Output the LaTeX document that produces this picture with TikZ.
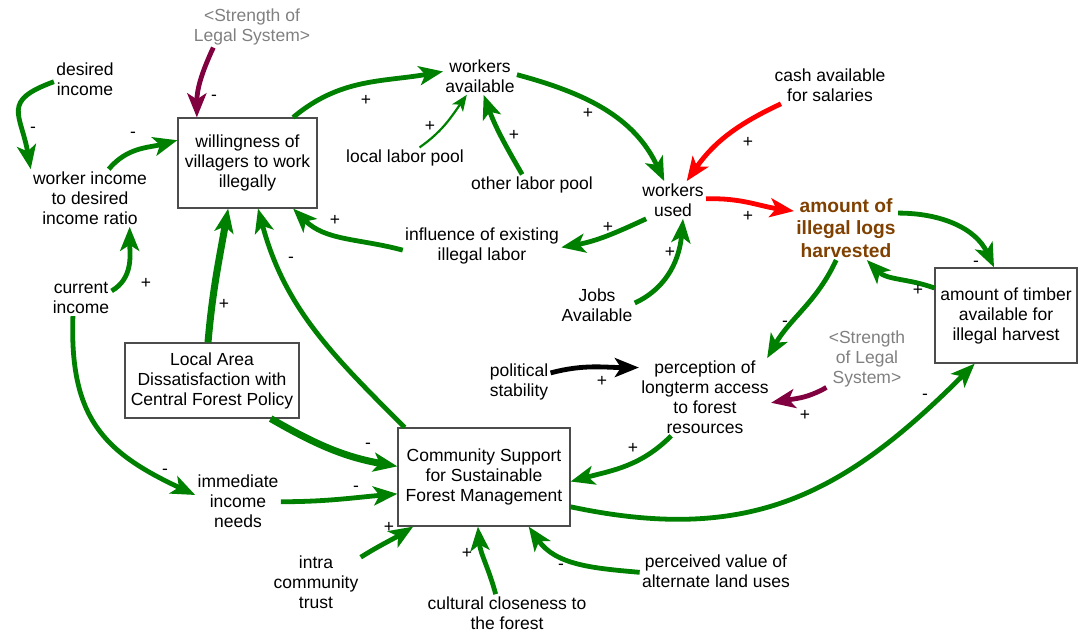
\documentclass[tikz,border=0pt]{standalone}
\usepackage{fontspec}
\setmainfont{Liberation Sans}
\usetikzlibrary{arrows.meta}

\definecolor{lnkgreen}{RGB}{0,128,0}
\definecolor{legalred}{RGB}{128,0,64}
\definecolor{harvbrown}{RGB}{128,64,0}
\definecolor{shadowgray}{RGB}{128,128,128}

\tikzset{
  var/.style={align=center, inner sep=1pt, font=\fontsize{8.75}{10}\selectfont},
  stock/.style={var, draw=black!70, line width=0.6pt, inner sep=0pt},
  ghost/.style={var, text=shadowgray},
  link/.style={lnkgreen, line width=2.4pt, -{Stealth[length=12pt,width=9.5pt,inset=3pt]}},
  sgn/.style={font=\fontsize{8.75}{10}\selectfont, inner sep=0pt},
}

\begin{document}
\begin{tikzpicture}[x=0.5pt,y=0.5pt]
\useasboundingbox (0,0) rectangle (1080,631);

% variables
\node[ghost] (legal) at (252,604) {<Strength of\\Legal System>};
\node[var] (desired) at (85,552) {desired\\income};
\node[var] (ratio) at (90,433) {worker income\\to desired\\income ratio};
\node[stock, minimum width=69.5pt, minimum height=45pt] (willing) at (247.5,468) {willingness of\\villagers to work\\illegally};
\node[var] (avail) at (480,555) {workers\\available};
\node[var] (localpool) at (405,473) {local labor pool};
\node[var] (otherpool) at (532,446) {other labor pool};
\node[var] (used) at (673,431) {workers\\used};
\node[var] (cash) at (830,546) {cash available\\for salaries};
\node[var, font=\bfseries\fontsize{9.6}{11.3}\selectfont, text=harvbrown] (logs) at (846,403) {amount of\\illegal logs\\harvested};
\node[var] (influence) at (482,385) {influence of existing\\illegal labor};
\node[var] (current) at (81,333) {current\\income};
\node[var] (jobs) at (597,326) {Jobs\\Available};
\node[stock, minimum width=71pt, minimum height=47.5pt] (timber) at (1006,315.5) {amount of timber\\available for\\illegal harvest};
\node[stock, minimum width=87pt, minimum height=37.5pt] (dissat) at (212,250.5) {Local Area\\Dissatisfaction with\\Central Forest Policy};
\node[var] (politic) at (519,249) {political\\stability};
\node[var] (access) at (705,234) {perception of\\longterm access\\to forest\\resources};
\node[ghost] (legalb) at (867,272) {<Strength\\of Legal\\System>};
\node[stock, minimum width=86pt, minimum height=49pt] (support) at (484,154) {Community Support\\for Sustainable\\Forest Management};
\node[var] (immediate) at (238,130) {immediate\\income\\needs};
\node[var] (trust) at (316,49) {intra\\community\\trust};
\node[var] (culture) at (507,18) {cultural closeness to\\the forest};
\node[var] (altuse) at (716,60) {perceived value of\\alternate land uses};

% links
\draw[link, legalred] (legal.208) to[out=245,in=90] (willing.138);
\draw[link] (desired.185) to[out=200,in=100,looseness=1.6] (ratio.north west);
\draw[link] (ratio.57) to[out=50,in=195] (willing.162);
\draw[link] (current.13) to[out=30,in=270] (ratio.324);
\draw[link, line width=3.5pt] (dissat.96) to[out=85,in=260] (willing.247);
\draw[link] (support.148) to[out=135,in=285] (willing.283);
\draw[link] (influence.183) to[out=165,in=315] (willing.315);
\draw[link] (willing.45) to[out=40,in=190] (avail.173);
\draw[link, line width=1.1pt, -{Stealth[length=8pt,width=6.5pt,inset=2pt]}] (localpool.36) to[out=35,in=235] (avail.235);
\draw[link] (otherpool.133) to[out=120,in=290] (avail.281);
\draw[link] (avail.2) to[out=-15,in=115] (used.115);
\draw[link] (used.215) to[out=205,in=10] (influence.359);
\draw[link] (jobs.3) to[out=25,in=265] (used.298);
\draw[link, red] (cash.201) to[out=205,in=55] (used.54);
\draw[link, red] (used.2) to[out=2,in=172] (logs.162);
\draw[link] (logs.16) to[out=0,in=115] (timber.104);
\draw[link] (timber.159) to[out=160,in=315] (logs.303);
\draw[link] (logs.253) to[out=245,in=60] (access.32);
\draw[link, black] (politic.16) to[out=15,in=180] (access.156);
\draw[link, legalred] (legalb.215) to[out=210,in=10] (access.355);
\draw[link] (access.229) to[out=225,in=15] (support.357);
\draw[link] (support.341) to[out=-12,in=225,looseness=1.1] (timber.237);
\draw[link, line width=3.5pt] (dissat.327) to[out=-30,in=170] (support.173);
\draw[link] (current.246) to[out=268,in=155,looseness=1.2] (immediate.172);
\draw[link] (immediate.359) to[out=0,in=185] (support.191);
\draw[link] (trust.29) to[out=32,in=212] (support.215);
\draw[link] (culture.121) to[out=105,in=275] (support.263);
\draw[link] (altuse.181) to[out=175,in=305] (support.312);

% polarities
\node[sgn] (s1) at (214,533) {-};
\node[sgn] (s2) at (33,501) {-};
\node[sgn] (s3) at (133,496) {-};
\node[sgn] (s4) at (146,348) {+};
\node[sgn] (s5) at (224,327) {+};
\node[sgn] (s6) at (291,371) {-};
\node[sgn] (s7) at (335,411) {+};
\node[sgn] (s8) at (366,531) {+};
\node[sgn] (s9) at (430,505) {+};
\node[sgn] (s10) at (514,496) {+};
\node[sgn] (s11) at (588,518) {+};
\node[sgn] (s12) at (608,404) {+};
\node[sgn] (s13) at (670,379) {+};
\node[sgn] (s14) at (748,489) {+};
\node[sgn] (s15) at (748,415) {+};
\node[sgn] (s16) at (976,367) {-};
\node[sgn] (s17) at (918,341) {+};
\node[sgn] (s18) at (785,307) {-};
\node[sgn] (s19) at (602,250) {+};
\node[sgn] (s20) at (805,216) {+};
\node[sgn] (s21) at (633,183) {+};
\node[sgn] (s22) at (925,234) {-};
\node[sgn] (s23) at (368,185) {-};
\node[sgn] (s24) at (165,159) {-};
\node[sgn] (s25) at (356,142) {-};
\node[sgn] (s26) at (389,104) {+};
\node[sgn] (s27) at (467,78) {+};
\node[sgn] (s28) at (561,64) {-};
\end{tikzpicture}
\end{document}
